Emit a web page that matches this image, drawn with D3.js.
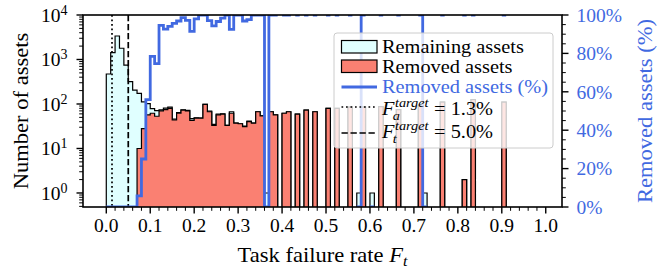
<!DOCTYPE html>
<html>
<head>
<meta charset="utf-8">
<script src="https://cdn.jsdelivr.net/npm/d3@7"></script>
<style>
  html, body { margin: 0; padding: 0; background: #fff; }
  svg { display: block; }
</style>
</head>
<body>
<svg id="chart" width="668" height="271"></svg>
<script>
// histogram bins of width 0.01 starting at 0 (bin i covers [i/100, (i+1)/100))
const binWidth = 0.01;

// assets removed per bin
const removed = [
  0, 0, 0, 0, 0, 0, 0, 10, 28, 57,
  62, 53, 70, 75, 80, 44, 62, 73, 70, 43,
  48, 48, 98, 67, 33, 57, 59, 33, 62, 37,
  36, 31, 40, 37, 67, 54, 0, 67, 57, 0,
  62, 67, 0, 59, 0, 73, 0, 67, 0, 0,
  80, 0, 80, 0, 0, 85, 0, 0, 85, 0,
  0, 0, 87, 0, 0, 0, 75, 0, 0, 0,
  0, 95, 0, 0, 0, 0, 110, 0, 0, 0,
  0, 2, 0, 125, 0, 0, 0, 0, 0, 0,
  110
];

// assets remaining per bin (stacked on top of the removed ones)
const remaining = [
  472, 1420, 3370, 1790, 750, 317, 206, 164, 84, 45,
  17, 18, 4, 6, 5, 2, 2, 1, 2, 4,
  1, 0, 0, 2, 2, 2, 1, 0, 5, 0,
  0, 1, 1, 0, 0, 0, 1, 0, 0, 0,
  0, 0, 0, 0, 0, 0, 0, 0, 0, 0,
  0, 0, 0, 0, 0, 0, 0, 1, 0, 0,
  1, 0, 0, 0, 0, 0, 0, 0, 0, 0,
  0, 0, 1, 0, 0, 0, 0, 0, 0, 0,
  0, 0, 0, 0, 0, 0, 0, 0, 0, 0,
  0
];

const targetA = 0.013;
const targetT = 0.05;

const xMajor = d3.range(0, 11).map(i => i / 10);
const xMinor = d3.range(0, 51).map(i => i / 50).filter(v => Math.round(v * 50) % 5 !== 0);
const yMajor = [1, 10, 100, 1000, 10000];
const yMinor = d3.range(-1, 4).flatMap(k => d3.range(2, 10).map(m => m * Math.pow(10, k)));
const pctMajor = [0, 20, 40, 60, 80, 100];
const pctMinor = d3.range(0, 101, 5).filter(v => v % 20 !== 0);

const FONT = "Liberation Serif";
const SX = 1.1; // widen serif glyphs a bit
const BLUE = "#4169e1";

const svg = d3.select("#chart");
const M = { left: 83, right: 562, top: 15, bottom: 207 };

const x = d3.scaleLinear().domain([-0.053, 1.037]).range([M.left, M.right]);
const y = d3.scaleLog().domain([Math.pow(10, -0.315), 1e4]).range([M.bottom, M.top]);
const yPct = d3.scaleLinear().domain([0, 100]).range([M.bottom, M.top]);

function txt(parent) {
  return parent.append("text").attr("font-family", FONT);
}

svg.append("defs").append("clipPath").attr("id", "plot")
  .append("rect")
  .attr("x", M.left).attr("y", M.top)
  .attr("width", M.right - M.left).attr("height", M.bottom - M.top);

const plot = svg.append("g").attr("clip-path", "url(#plot)");

const edges = d3.range(removed.length + 1).map(i => i * binWidth);
const total = removed.map((r, i) => r + remaining[i]);

function stepPath(counts) {
  const floor = M.bottom + 20;
  const pts = [[x(edges[0]), floor]];
  counts.forEach((c, i) => {
    const yy = c > 0 ? y(c) : floor;
    pts.push([x(edges[i]), yy], [x(edges[i + 1]), yy]);
  });
  pts.push([x(edges[counts.length]), floor]);
  return d3.line()(pts) + "Z";
}

plot.append("path")
  .attr("d", stepPath(total))
  .attr("fill", "lightcyan")
  .attr("stroke", "#000")
  .attr("stroke-width", 1.2)
  .attr("stroke-linejoin", "miter");

plot.append("path")
  .attr("d", stepPath(removed))
  .attr("fill", "salmon")
  .attr("stroke", "#000")
  .attr("stroke-width", 1.2)
  .attr("stroke-linejoin", "miter");

// target lines
plot.append("line")
  .attr("x1", x(targetA)).attr("x2", x(targetA))
  .attr("y1", M.top).attr("y2", M.bottom)
  .attr("stroke", "#000").attr("stroke-width", 1.7)
  .attr("stroke-dasharray", "1.7,2.8");

plot.append("line")
  .attr("x1", x(targetT)).attr("x2", x(targetT))
  .attr("y1", M.top).attr("y2", M.bottom)
  .attr("stroke", "#000").attr("stroke-width", 1.7)
  .attr("stroke-dasharray", "6.3,2.7");

// share of removed assets per bin, gaps where a bin is empty
const pct = removed.map((r, i) => (total[i] > 0 ? (100 * r) / total[i] : null));
const pctPts = [];
pct.forEach((p, i) => {
  if (p === null) { pctPts.push(null); return; }
  pctPts.push([x(edges[i]), yPct(p)], [x(edges[i + 1]), yPct(p)]);
});

plot.append("path")
  .attr("d", d3.line().defined(d => d !== null)(pctPts))
  .attr("fill", "none")
  .attr("stroke", BLUE)
  .attr("stroke-width", 2.8)
  .attr("stroke-linejoin", "miter");

// spines
svg.append("rect")
  .attr("x", M.left).attr("y", M.top)
  .attr("width", M.right - M.left).attr("height", M.bottom - M.top)
  .attr("fill", "none").attr("stroke", "#000").attr("stroke-width", 1.6);

// ticks
const ticks = svg.append("g").attr("stroke", "#000");
xMajor.forEach(v => ticks.append("line")
  .attr("x1", x(v)).attr("x2", x(v)).attr("y1", M.bottom).attr("y2", M.bottom + 6.5)
  .attr("stroke-width", 1.4));
xMinor.forEach(v => ticks.append("line")
  .attr("x1", x(v)).attr("x2", x(v)).attr("y1", M.bottom).attr("y2", M.bottom + 3.8)
  .attr("stroke-width", 1));
yMajor.forEach(v => ticks.append("line")
  .attr("x1", M.left - 6.5).attr("x2", M.left).attr("y1", y(v)).attr("y2", y(v))
  .attr("stroke-width", 1.4));
yMinor.filter(v => v >= y.domain()[0]).forEach(v => ticks.append("line")
  .attr("x1", M.left - 3.8).attr("x2", M.left).attr("y1", y(v)).attr("y2", y(v))
  .attr("stroke-width", 1));
pctMajor.forEach(v => ticks.append("line")
  .attr("x1", M.right).attr("x2", M.right + 6.5).attr("y1", yPct(v)).attr("y2", yPct(v))
  .attr("stroke-width", 1.4));
pctMinor.forEach(v => ticks.append("line")
  .attr("x1", M.right).attr("x2", M.right + 3.8).attr("y1", yPct(v)).attr("y2", yPct(v))
  .attr("stroke-width", 1));

// tick labels
const fmt = d3.format(".1f");
xMajor.forEach(v => txt(svg)
  .attr("x", x(v)).attr("y", 232)
  .attr("text-anchor", "middle")
  .attr("font-size", 19.5)
  .text(fmt(v)));

yMajor.forEach(v => {
  const t = txt(svg)
    .attr("x", M.left - 15.5).attr("y", y(v) + 7)
    .attr("text-anchor", "end")
    .attr("font-size", 19.5);
  t.append("tspan").text("10");
  t.append("tspan").attr("dy", -7).attr("font-size", 14).text(Math.round(Math.log10(v)));
});

pctMajor.forEach(v => txt(svg)
  .attr("x", M.right + 14.5).attr("y", yPct(v) + 6.8)
  .attr("fill", BLUE)
  .attr("font-size", 19.5)
  .text(v + "%"));

// axis labels
function stretched(px, py, rot) {
  return svg.append("g")
    .attr("transform", `translate(${px},${py})${rot ? " rotate(-90)" : ""} scale(${SX},1)`);
}

const xl = txt(stretched((M.left + M.right) / 2, 262, false))
  .attr("text-anchor", "middle").attr("font-size", 20.5);
xl.append("tspan").text("Task failure rate ");
xl.append("tspan").attr("font-style", "italic").text("F");
xl.append("tspan").attr("font-style", "italic").attr("font-size", 14.5).attr("dy", 4).text("t");

txt(stretched(28, (M.top + M.bottom) / 2, true))
  .attr("text-anchor", "middle").attr("font-size", 20.5)
  .text("Number of assets");

txt(stretched(652, (M.top + M.bottom) / 2, true))
  .attr("text-anchor", "middle").attr("font-size", 20.5)
  .attr("fill", BLUE)
  .text("Removed assets (%)");

// legend
const lg = svg.append("g");
lg.append("rect")
  .attr("x", 334).attr("y", 33).attr("width", 219).attr("height", 115).attr("rx", 3)
  .attr("fill", "#fff").attr("fill-opacity", 0.8)
  .attr("stroke", "#cccccc").attr("stroke-width", 1);

const hx0 = 341.5, hx1 = 377;
lg.append("rect").attr("x", hx0).attr("y", 40.5).attr("width", hx1 - hx0).attr("height", 12.5)
  .attr("fill", "lightcyan").attr("stroke", "#000").attr("stroke-width", 1.2);
lg.append("rect").attr("x", hx0).attr("y", 60).attr("width", hx1 - hx0).attr("height", 12.5)
  .attr("fill", "salmon").attr("stroke", "#000").attr("stroke-width", 1.2);
lg.append("line").attr("x1", hx0).attr("x2", hx1).attr("y1", 87).attr("y2", 87)
  .attr("stroke", BLUE).attr("stroke-width", 2.8);
lg.append("line").attr("x1", hx0).attr("x2", hx1).attr("y1", 107).attr("y2", 107)
  .attr("stroke", "#000").attr("stroke-width", 1.7).attr("stroke-dasharray", "1.7,2.8");
lg.append("line").attr("x1", hx0).attr("x2", hx1).attr("y1", 133).attr("y2", 133)
  .attr("stroke", "#000").attr("stroke-width", 1.7).attr("stroke-dasharray", "6.3,2.7");

const tx = 382;
[["Remaining assets", 53.3, "#000"], ["Removed assets", 72.7, "#000"], ["Removed assets (%)", 92.7, BLUE]]
  .forEach(([s, by, c]) => {
    const g = lg.append("g").attr("transform", `translate(${tx},${by}) scale(${SX},1)`);
    txt(g).attr("font-size", 18.5).attr("fill", c).text(s);
  });

function targetEntry(sub, value, by) {
  const g = lg.append("g").attr("transform", `translate(${tx},${by}) scale(${SX},1)`);
  const f = txt(g).attr("font-size", 18.5).attr("font-style", "italic").text("F");
  const fw = f.node().getComputedTextLength();
  const sup = txt(g).attr("x", fw + 0.5).attr("y", -8)
    .attr("font-size", 13).attr("font-style", "italic").text("target");
  txt(g).attr("x", fw - 1.5).attr("y", 4.5)
    .attr("font-size", 13).attr("font-style", "italic").text(sub);
  const sw = sup.node().getComputedTextLength();
  txt(g).attr("x", fw + 0.5 + sw + 5).attr("font-size", 18.5)
    .text("= " + value);
}
targetEntry("a", "1.3%", 115);
targetEntry("t", "5.0%", 138.3);
</script>
</body>
</html>
